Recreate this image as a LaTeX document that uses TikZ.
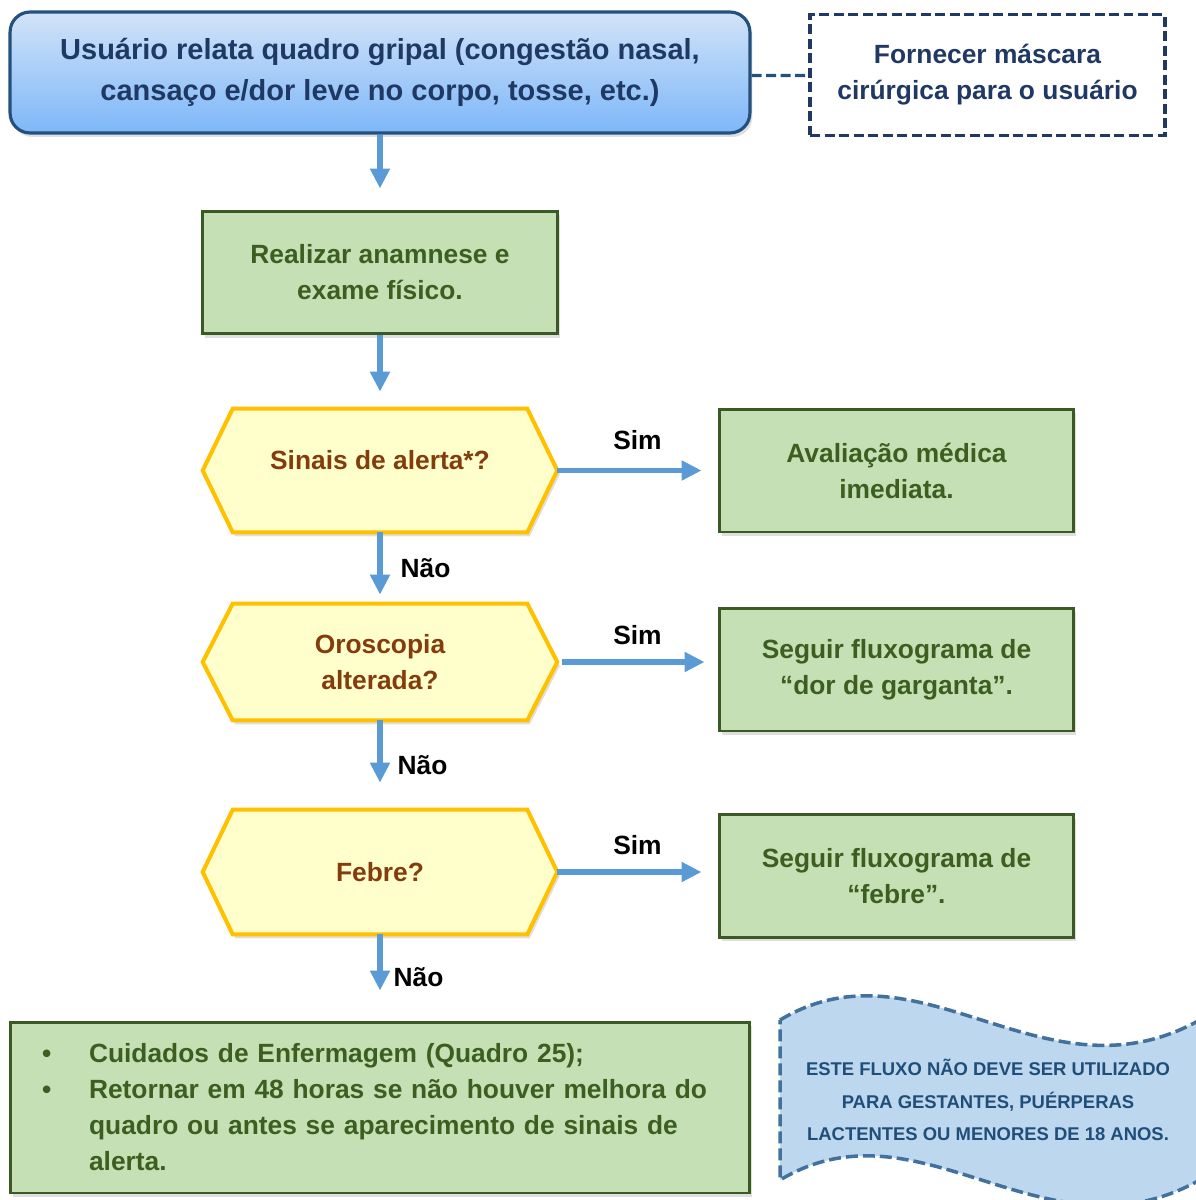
\documentclass[tikz,border=0pt]{standalone}
\usepackage{fontspec}
\setmainfont{Liberation Sans}
\usetikzlibrary{arrows.meta,positioning,calc,shadows,backgrounds}
\definecolor{navy}{HTML}{1F3864}
\definecolor{topline}{HTML}{24507E}
\definecolor{skytop}{HTML}{D2E3F8}
\definecolor{skybottom}{HTML}{7DB7F8}
\definecolor{arrowblue}{HTML}{5B9BD5}
\definecolor{leaf}{HTML}{C5E0B4}
\definecolor{leafline}{HTML}{3B5A23}
\definecolor{leaftext}{HTML}{3C5F21}
\definecolor{lemon}{HTML}{FFFFCC}
\definecolor{gold}{HTML}{FFC000}
\definecolor{rust}{HTML}{843C0C}
\definecolor{paleblue}{HTML}{BDD7EE}
\definecolor{waveline}{HTML}{41719C}
\definecolor{wavetext}{HTML}{1F4E79}
\tikzset{
  softshadow/.style={drop shadow={opacity=0.25,shadow xshift=0.05cm,shadow yshift=-0.08cm}},
  topbox/.style={rectangle,rounded corners=0.4cm,draw=topline,line width=1.8pt,top color=skytop,bottom color=skybottom,align=center,text=navy,font=\bfseries\fontsize{16.5}{23.3}\selectfont,minimum width=14.8cm,minimum height=2.42cm,softshadow},
  notebox/.style={rectangle,draw=navy,line width=1.8pt,dash pattern=on 0.2cm off 0.09cm,align=center,text=navy,font=\bfseries\fontsize{15}{20.5}\selectfont,minimum width=7.1cm,minimum height=2.42cm},
  greenbox/.style={rectangle,draw=leafline,line width=1.7pt,fill=leaf,align=center,text=leaftext,font=\bfseries\fontsize{15}{20.5}\selectfont,minimum width=7.1cm,minimum height=2.46cm,softshadow},
  hexbox/.style={rectangle,align=center,text=rust,font=\bfseries\fontsize{15}{20.5}\selectfont,minimum width=7.08cm,minimum height=2.46cm},
  hexline/.style={draw=gold,line width=2.3pt,fill=lemon,softshadow},
  dashline/.style={draw=topline,line width=1.9pt,dash pattern=on 0.2cm off 0.09cm},
  waveshape/.style={draw=waveline,fill=paleblue,line width=2pt,dash pattern=on 0.24cm off 0.1cm},
  wavenote/.style={align=center,text=wavetext,font=\bfseries\fontsize{10.5}{18.5}\selectfont},
  arrow/.style={-{Triangle[length=0.4cm,width=0.38cm]},line width=3.2pt,arrowblue},
  answer/.style={font=\bfseries\fontsize{15}{18}\selectfont,text=black}
}
\begin{document}
\begin{tikzpicture}[x=0.02cm,y=-0.02cm]
  \useasboundingbox (0,0) rectangle (1196,1200);
  % topo
  \node[topbox] (relato) at (380,72.5) {Usuário relata quadro gripal (congestão nasal,\\cansaço e/dor leve no corpo, tosse, etc.)};
  \node[notebox] (mascara) at (987.5,75) {Fornecer máscara\\cirúrgica para o usuário};
  \node[greenbox] (anamnese) at (380,272.5) {Realizar anamnese e\\exame físico.};
  % decisoes
  \node[hexbox] (alerta) at (380,470.5) {\raisebox{0.42cm}{Sinais de alerta*?}};
  \node[hexbox,minimum height=2.32cm] (oroscopia) at (380,662) {Oroscopia\\alterada?};
  \node[hexbox,minimum height=2.48cm] (febre) at (380,872) {Febre?};
  \node[greenbox] (medica) at (896.5,470.5) {Avaliação médica\\imediata.};
  \node[greenbox] (garganta) at (896.5,669.5) {Seguir fluxograma de\\“dor de garganta”.};
  \node[greenbox] (fluxofebre) at (896.5,876) {Seguir fluxograma de\\“febre”.};
  \node[greenbox,minimum height=3.42cm,align=left,text width=13.52cm,inner xsep=0.64cm] (cuidados) at (380,1107.5)
    {\makebox[0.94cm][l]{\textbullet}Cuidados de Enfermagem (Quadro 25);\\
     \makebox[0.94cm][l]{\textbullet}Retornar em 48 horas se não houver melhora do\\
     \hspace*{0.94cm}quadro ou antes se aparecimento de sinais de\\
     \hspace*{0.94cm}alerta.};
  \begin{scope}[on background layer]
    \foreach \h in {alerta,oroscopia,febre}
      \draw[hexline] (\h.west) -- ([xshift=0.6cm]\h.north west) -- ([xshift=-0.6cm]\h.north east)
        -- (\h.east) -- ([xshift=-0.6cm]\h.south east) -- ([xshift=0.6cm]\h.south west) -- cycle;
  \end{scope}
  % aviso
  \draw[waveshape] (780,1020) .. controls (930,930) and (1060,1130) .. (1230,1000)
    -- (1230,1160) .. controls (1060,1290) and (930,1090) .. (780,1180) -- cycle;
  \node[wavenote] (aviso) at (988,1100) {ESTE FLUXO NÃO DEVE SER UTILIZADO\\PARA GESTANTES, PUÉRPERAS\\LACTENTES OU MENORES DE 18 ANOS.};
  % conexoes
  \draw[dashline] (relato.east) ++(0,3) -- ([yshift=-0.06cm]relato.east -| mascara.west);
  \draw[arrow,shorten >=0.42cm] (relato) -- (anamnese);
  \draw[arrow,shorten >=0.34cm] (anamnese) -- (alerta);
  \draw[arrow,shorten >=0.18cm] (alerta) -- node[answer,right=0.24cm] {Não} (oroscopia);
  \draw[arrow,shorten >=0.54cm] (oroscopia) -- node[answer,right=0.18cm] {Não} (febre);
  \draw[arrow,shorten >=0.6cm] (febre) -- node[answer,right=0.1cm] {Não} (cuidados);
  \draw[arrow,shorten >=0.32cm] (alerta.east) -- node[answer,above=0.25cm] {Sim} (alerta.east -| medica.west);
  \draw[arrow,shorten <=0.1cm,shorten >=0.26cm] (oroscopia.east) -- node[answer,above=0.17cm] {Sim} (oroscopia.east -| garganta.west);
  \draw[arrow,shorten >=0.32cm] (febre.east) -- node[answer,above=0.17cm] {Sim} (febre.east -| fluxofebre.west);
\end{tikzpicture}
\end{document}
